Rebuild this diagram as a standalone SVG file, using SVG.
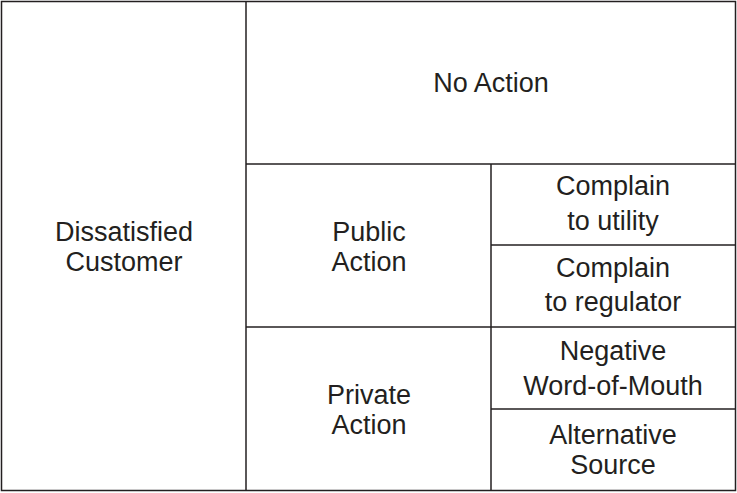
<svg xmlns="http://www.w3.org/2000/svg" width="737" height="493" viewBox="0 0 737 493">
<style>
.b{fill:none;stroke:#231f20;stroke-width:1.5}
text{font-family:"Liberation Sans",Arial,sans-serif;font-size:27px;fill:#231f20;text-anchor:middle}
</style>
<rect width="737" height="493" fill="#fff"/>
<g id="connectors">
<rect class="b" x="1.5" y="1.5" width="734" height="489"/>
<line class="b" x1="246" y1="1.5" x2="246" y2="490.5"/>
<line class="b" x1="246" y1="164" x2="735.5" y2="164"/>
<line class="b" x1="246" y1="327" x2="735.5" y2="327"/>
<line class="b" x1="491" y1="164" x2="491" y2="490.5"/>
<line class="b" x1="491" y1="245" x2="735.5" y2="245"/>
<line class="b" x1="491" y1="409" x2="735.5" y2="409"/>
</g>
<g id="dissatisfied"><text x="124" y="241">Dissatisfied</text><text x="124" y="271">Customer</text></g>
<g id="noaction"><text x="491" y="92">No Action</text></g>
<g id="public"><text x="369" y="241">Public</text><text x="369" y="271">Action</text></g>
<g id="private"><text x="369" y="404">Private</text><text x="369" y="434">Action</text></g>
<g id="utility"><text x="613" y="195">Complain</text><text x="613" y="230">to utility</text></g>
<g id="regulator"><text x="613" y="277">Complain</text><text x="613" y="311">to regulator</text></g>
<g id="wom"><text x="613" y="360">Negative</text><text x="613" y="395">Word-of-Mouth</text></g>
<g id="alt"><text x="613" y="444">Alternative</text><text x="613" y="474">Source</text></g>
</svg>
